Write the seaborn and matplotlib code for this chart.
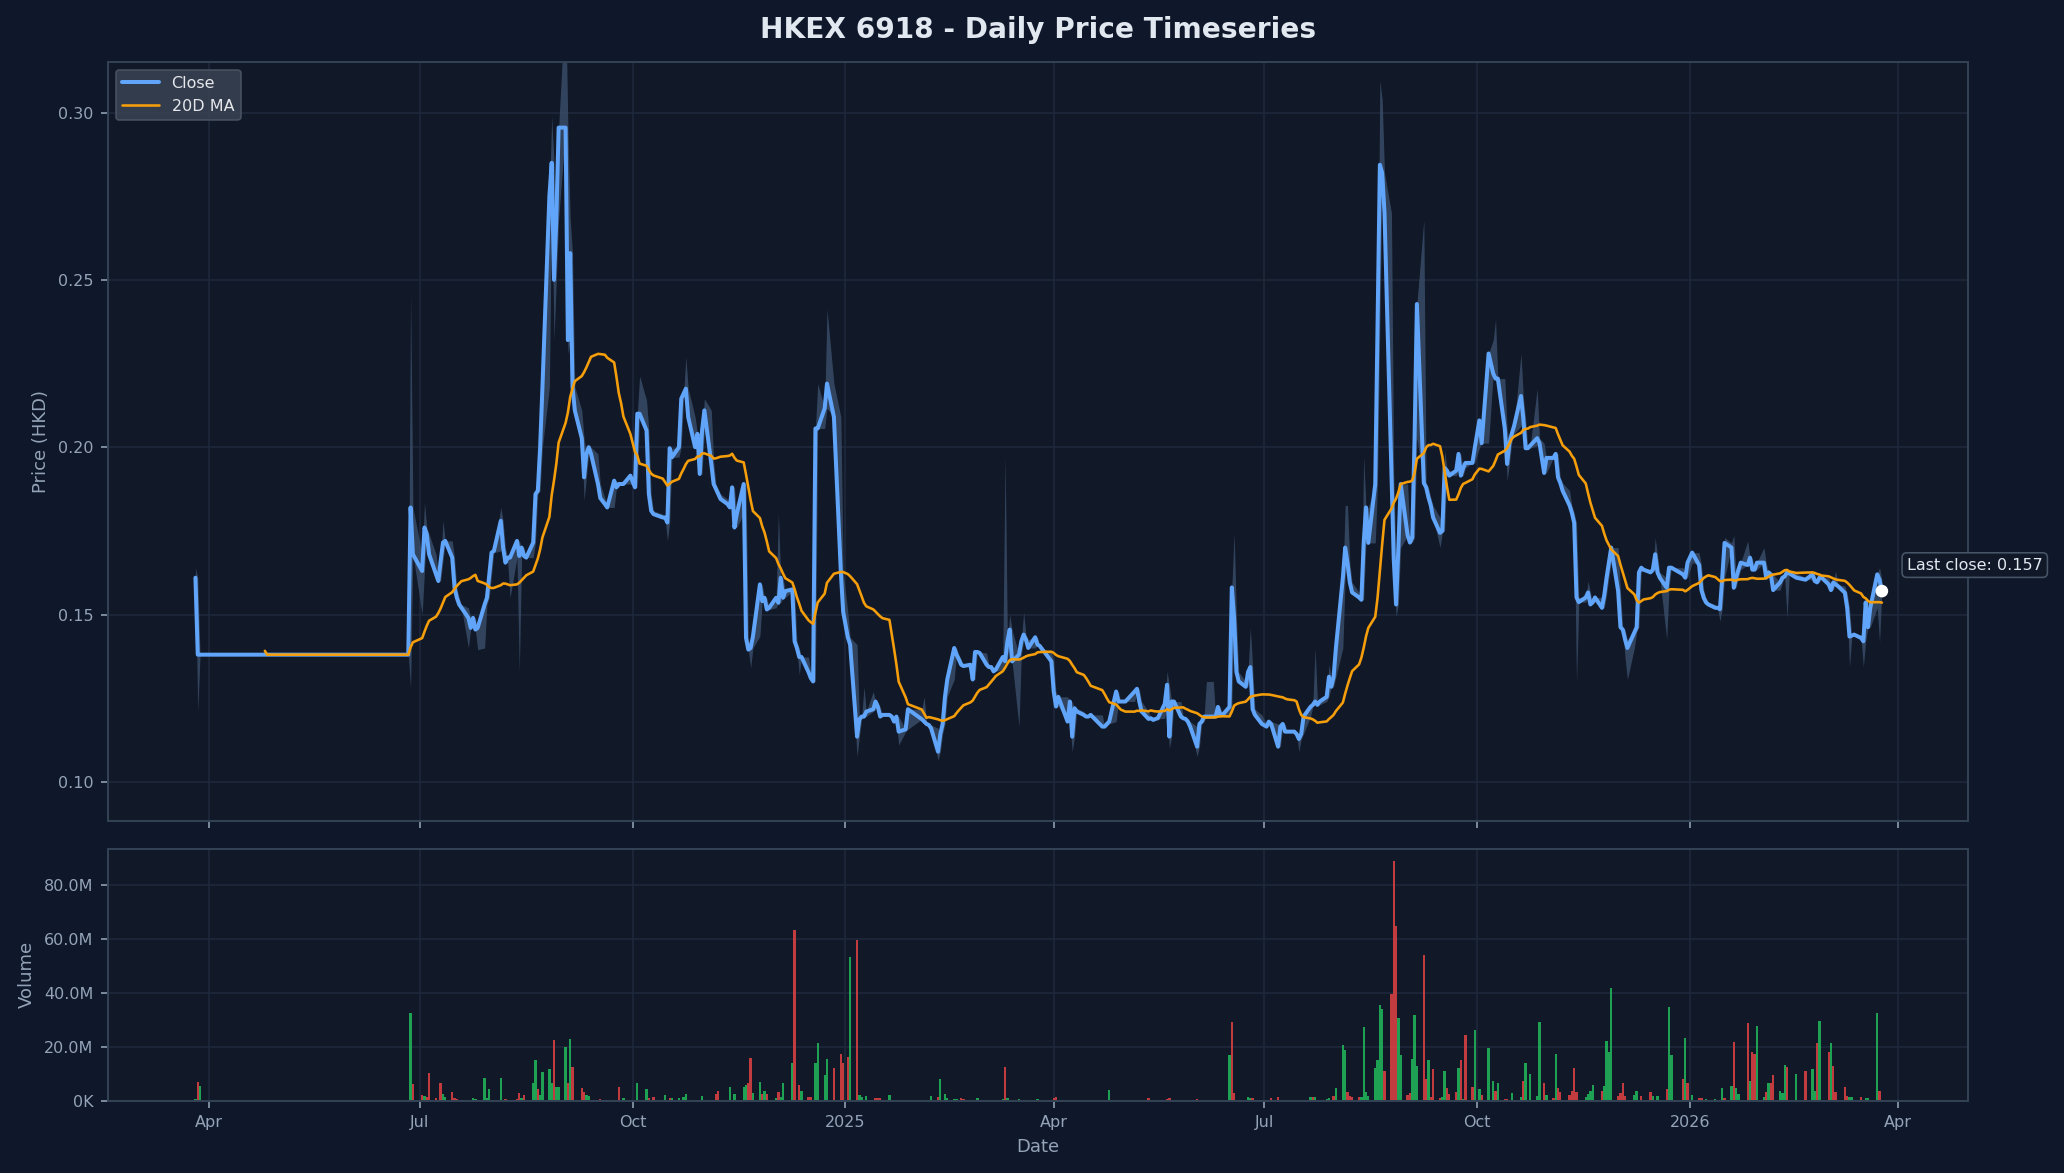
import numpy as np
import pandas as pd
import matplotlib
matplotlib.use("Agg")
import matplotlib.pyplot as plt
import matplotlib.dates as mdates
from matplotlib.ticker import FuncFormatter, MultipleLocator
import seaborn as sns

# ------------------------------------------------------------------ data
TITLE = "HKEX 6918 - Daily Price Timeseries"
FIRST_DAY = "2024-03-26"
LAST_DAY = "2026-03-25"

# HKEX weekday market holidays inside the range (trading calendar)
hk_holidays = ["2024-03-29", "2024-04-01", "2024-04-04", "2024-05-01", "2024-05-15",
               "2024-06-10", "2024-07-01", "2024-09-18", "2024-10-01", "2024-10-11",
               "2024-12-25", "2024-12-26", "2025-01-01", "2025-01-29", "2025-01-30",
               "2025-01-31", "2025-04-04", "2025-04-18", "2025-04-21", "2025-05-01",
               "2025-05-05", "2025-07-01", "2025-10-01", "2025-10-07", "2025-10-29",
               "2025-12-25", "2025-12-26", "2026-01-01", "2026-02-17", "2026-02-18",
               "2026-02-19"]

close_2024_03 = [0.161, 0.138, 0.138]
close_2024_04 = [0.138] * 20
close_2024_05 = [0.138] * 21
close_2024_06 = [0.138] * 17 + [0.182, 0.168]
close_2024_07 = [0.163, 0.176, 0.174, 0.168, 0.162, 0.160, 0.166, 0.1715, 0.172, 0.167,
                 0.158, 0.155, 0.153, 0.152, 0.149, 0.146, 0.149, 0.1455, 0.146, 0.153,
                 0.155, 0.1617]
close_2024_08 = [0.1685, 0.169, 0.178, 0.170, 0.1655, 0.167, 0.167, 0.172, 0.1675, 0.170,
                 0.1675, 0.167, 0.1715, 0.186, 0.187, 0.200, 0.218, 0.275, 0.285, 0.250,
                 0.268, 0.2955]
close_2024_09 = [0.2955, 0.232, 0.258, 0.218, 0.211, 0.2027, 0.191, 0.198, 0.200, 0.198,
                 0.189, 0.1848, 0.183, 0.182, 0.190, 0.188, 0.189, 0.189, 0.189, 0.1915]
close_2024_10 = [0.188, 0.210, 0.210, 0.205, 0.186, 0.181, 0.180, 0.179, 0.179, 0.1775,
                 0.1997, 0.197, 0.200, 0.2145, 0.216, 0.2175, 0.209, 0.200, 0.204, 0.192,
                 0.205]
close_2024_11 = [0.211, 0.195, 0.189, 0.1875, 0.186, 0.1845, 0.183, 0.182, 0.188, 0.176,
                 0.180, 0.189, 0.143, 0.1395, 0.140, 0.1435, 0.159, 0.154, 0.155, 0.1515,
                 0.152]
close_2024_12 = [0.155, 0.1535, 0.161, 0.155, 0.157, 0.1575, 0.142, 0.140, 0.1373, 0.1373,
                 0.1328, 0.131, 0.130, 0.2056, 0.2056, 0.2116, 0.219, 0.209, 0.1625, 0.1508]
close_2025_01 = [0.1432, 0.141, 0.1135, 0.1187, 0.1195, 0.1195, 0.121, 0.1217, 0.124, 0.1224,
                 0.1195, 0.120, 0.120, 0.1195, 0.118, 0.1195, 0.115, 0.1157, 0.1217]
close_2025_02 = [0.1187, 0.118, 0.1173, 0.117, 0.116, 0.109, 0.1143, 0.1173, 0.1254, 0.1306,
                 0.140, 0.138, 0.1366, 0.135, 0.1346, 0.135, 0.1306, 0.1388, 0.1388, 0.1385]
close_2025_03 = [0.135, 0.1343, 0.1343, 0.133, 0.1336, 0.1373, 0.136, 0.142, 0.1455, 0.136,
                 0.138, 0.142, 0.144, 0.1425, 0.140, 0.1432, 0.141, 0.1406, 0.1396, 0.1388,
                 0.136]
close_2025_04 = [0.127, 0.1225, 0.1254, 0.118, 0.124, 0.1135, 0.122, 0.121, 0.120, 0.1195,
                 0.1195, 0.120, 0.1165, 0.1165, 0.1173, 0.118, 0.127, 0.124, 0.124]
close_2025_05 = [0.124, 0.127, 0.1278, 0.124, 0.121, 0.1188, 0.119, 0.1185, 0.1188, 0.119,
                 0.1233, 0.129, 0.1135, 0.124, 0.124, 0.1195, 0.119, 0.1188, 0.118, 0.1165]
close_2025_06 = [0.1105, 0.1173, 0.118, 0.1195, 0.1195, 0.1195, 0.1195, 0.1224, 0.120, 0.120,
                 0.1224, 0.1581, 0.149, 0.1328, 0.130, 0.1284, 0.1328, 0.1343, 0.1217, 0.120,
                 0.1173]
close_2025_07 = [0.1165, 0.118, 0.1173, 0.1105, 0.1165, 0.1173, 0.115, 0.115, 0.115,
                 0.1143, 0.1128, 0.1143, 0.1195, 0.1224, 0.123, 0.124, 0.123, 0.124, 0.1254,
                 0.1314, 0.1284, 0.1314]
close_2025_08 = [0.140, 0.161, 0.170, 0.1655, 0.1596, 0.1566, 0.1551, 0.1544, 0.1714, 0.182,
                 0.1714, 0.189, 0.237, 0.2844, 0.282, 0.270, 0.192, 0.1665, 0.153, 0.170,
                 0.189]
close_2025_09 = [0.1737, 0.1715, 0.173, 0.2027, 0.2428, 0.1893, 0.188, 0.185, 0.1826, 0.179,
                 0.1744, 0.175, 0.1938, 0.193, 0.1915, 0.193, 0.198, 0.1915, 0.1938, 0.1953,
                 0.1953, 0.1997]
close_2025_10 = [0.208, 0.2012, 0.228, 0.222, 0.2205, 0.2205, 0.2056, 0.195, 0.2012, 0.204,
                 0.2063, 0.2153, 0.2086, 0.1997, 0.1997, 0.2005, 0.2027, 0.2012, 0.1923, 0.1968]
close_2025_11 = [0.1968, 0.198, 0.191, 0.1893, 0.187, 0.1826, 0.1804, 0.1774, 0.1551, 0.1537,
                 0.1551, 0.1566, 0.153, 0.1537, 0.1551, 0.152, 0.1558, 0.161, 0.1655, 0.170]
close_2025_12 = [0.157, 0.1462, 0.1455, 0.1425, 0.140, 0.1447, 0.1462, 0.1626, 0.164, 0.1634,
                 0.1626, 0.1634, 0.168, 0.1626, 0.161, 0.158, 0.164, 0.164, 0.162, 0.161,
                 0.1655]
close_2026_01 = [0.1685, 0.1648, 0.1573, 0.155, 0.1536, 0.153, 0.152, 0.152, 0.1516,
                 0.161, 0.1714, 0.170, 0.158, 0.161, 0.1634, 0.1655, 0.1648, 0.167, 0.1634,
                 0.1634, 0.1655]
close_2026_02 = [0.1655, 0.161, 0.1626, 0.162, 0.1573, 0.1596, 0.161, 0.1614, 0.1626, 0.1623,
                 0.161, 0.1604, 0.162, 0.160, 0.1596, 0.161, 0.161]
close_2026_03 = [0.159, 0.1573, 0.1596, 0.159, 0.1585, 0.1565, 0.152, 0.1434, 0.1437, 0.144,
                 0.143, 0.142, 0.1536, 0.1462, 0.152, 0.162, 0.1604, 0.157]

months = [
    ("2024-03", close_2024_03), ("2024-04", close_2024_04), ("2024-05", close_2024_05),
    ("2024-06", close_2024_06), ("2024-07", close_2024_07), ("2024-08", close_2024_08),
    ("2024-09", close_2024_09), ("2024-10", close_2024_10), ("2024-11", close_2024_11),
    ("2024-12", close_2024_12), ("2025-01", close_2025_01), ("2025-02", close_2025_02),
    ("2025-03", close_2025_03), ("2025-04", close_2025_04), ("2025-05", close_2025_05),
    ("2025-06", close_2025_06), ("2025-07", close_2025_07), ("2025-08", close_2025_08),
    ("2025-09", close_2025_09), ("2025-10", close_2025_10), ("2025-11", close_2025_11),
    ("2025-12", close_2025_12), ("2026-01", close_2026_01), ("2026-02", close_2026_02),
    ("2026-03", close_2026_03),
]

# intraday extremes that reach beyond the close-to-close range
high_spike_dates = ["2024-03-26", "2024-06-27", "2024-07-03", "2024-08-27", "2024-09-02",
                    "2024-09-04", "2024-10-04", "2024-10-24", "2024-11-01", "2024-12-03",
                    "2024-12-20", "2024-12-24", "2025-01-09", "2025-02-04", "2025-03-11",
                    "2025-03-19", "2025-06-06", "2025-06-09", "2025-06-18", "2025-06-25",
                    "2025-07-23", "2025-08-05", "2025-08-06", "2025-08-13", "2025-08-20",
                    "2025-08-21", "2025-09-08", "2025-10-08", "2025-10-09", "2025-10-20",
                    "2025-10-27", "2025-12-17", "2026-01-16", "2026-01-20", "2026-02-02",
                    "2026-03-24", "2024-07-11", "2024-08-05", "2024-10-07", "2024-11-05",
                    "2025-01-13", "2025-03-13", "2025-05-20", "2025-07-29", "2025-09-17",
                    "2025-11-18", "2026-01-26", "2026-03-05"]
high_spike_values = [0.164, 0.2465, 0.1834, 0.299, 0.335,
                     0.268, 0.2213, 0.227, 0.2145, 0.1804,
                     0.219, 0.2413, 0.1284, 0.1254, 0.1975,
                     0.1507, 0.130, 0.130, 0.1744, 0.146,
                     0.140, 0.1826, 0.1826, 0.1975, 0.3097,
                     0.3037, 0.268, 0.232, 0.2383, 0.228,
                     0.2175, 0.1729, 0.173, 0.1737, 0.170,
                     0.164, 0.178, 0.182, 0.214, 0.196,
                     0.127, 0.150, 0.133, 0.135, 0.199,
                     0.160, 0.172, 0.163]
low_spike_dates = ["2024-03-27", "2024-06-27", "2024-07-02", "2024-07-22", "2024-07-26",
                   "2024-07-29", "2024-08-09", "2024-08-13", "2024-08-28", "2024-09-03",
                   "2025-01-06", "2025-02-10", "2025-03-17", "2025-06-02", "2025-08-27",
                   "2025-11-13", "2025-12-05", "2025-12-22", "2026-02-12", "2026-03-11",
                   "2026-03-17", "2026-03-24", "2024-09-10", "2024-10-16", "2024-11-21",
                   "2024-12-12", "2025-01-24", "2025-04-09", "2025-05-21", "2025-07-16",
                   "2025-09-15", "2025-10-14", "2025-12-04", "2026-01-14"]
low_spike_values = [0.121, 0.128, 0.150, 0.140, 0.1395,
                    0.140, 0.155, 0.1328, 0.232, 0.228,
                    0.1076, 0.1065, 0.1165, 0.1076, 0.1493,
                    0.1294, 0.1306, 0.1425, 0.149, 0.1343,
                    0.1343, 0.1417, 0.184, 0.172, 0.134,
                    0.132, 0.111, 0.109, 0.110, 0.109,
                    0.170, 0.190, 0.137, 0.148]

# traded volume (millions of shares), u = up bar, d = down bar
volume_events = [
    ("2024-03-26", 0.6, "u"), ("2024-03-27", 7.1, "d"), ("2024-03-28", 5.6, "u"),
    ("2024-06-27", 32.75, "u"), ("2024-06-28", 6.25, "d"), ("2024-07-02", 2.2, "d"),
    ("2024-07-03", 1.9, "u"), ("2024-07-04", 1.5, "d"), ("2024-07-05", 10.4, "d"),
    ("2024-07-08", 0.9, "d"), ("2024-07-10", 6.6, "d"), ("2024-07-11", 2.5, "u"),
    ("2024-07-12", 1.5, "u"), ("2024-07-15", 3.4, "d"), ("2024-07-16", 1.2, "d"),
    ("2024-07-17", 0.5, "d"), ("2024-07-22", 0.3, "d"), ("2024-07-24", 0.9, "u"),
    ("2024-07-25", 0.5, "u"), ("2024-07-29", 8.6, "u"), ("2024-07-30", 1.2, "u"),
    ("2024-07-31", 4.4, "u"), ("2024-08-05", 8.6, "u"), ("2024-08-07", 0.5, "d"),
    ("2024-08-12", 0.5, "d"), ("2024-08-13", 2.9, "d"), ("2024-08-14", 0.9, "u"),
    ("2024-08-15", 2.2, "d"), ("2024-08-19", 6.4, "u"), ("2024-08-20", 15.0, "u"),
    ("2024-08-21", 4.4, "d"), ("2024-08-22", 2.2, "u"), ("2024-08-23", 10.5, "u"),
    ("2024-08-26", 11.6, "u"), ("2024-08-27", 6.7, "u"), ("2024-08-28", 22.5, "d"),
    ("2024-08-29", 5.0, "u"), ("2024-08-30", 5.0, "u"), ("2024-09-02", 19.9, "u"),
    ("2024-09-03", 6.7, "d"), ("2024-09-04", 22.9, "u"), ("2024-09-05", 12.4, "d"),
    ("2024-09-09", 4.9, "d"), ("2024-09-10", 3.4, "d"), ("2024-09-11", 2.2, "u"),
    ("2024-09-12", 1.9, "u"), ("2024-09-13", 0.4, "u"), ("2024-09-17", 0.5, "d"),
    ("2024-09-25", 5.2, "d"), ("2024-09-27", 1.1, "u"), ("2024-09-30", 0.4, "u"),
    ("2024-10-03", 6.4, "u"), ("2024-10-07", 4.2, "u"), ("2024-10-08", 1.1, "d"),
    ("2024-10-10", 1.4, "d"), ("2024-10-14", 0.4, "d"), ("2024-10-15", 2.1, "u"),
    ("2024-10-17", 1.2, "d"), ("2024-10-18", 1.1, "u"), ("2024-10-21", 1.1, "u"),
    ("2024-10-23", 1.5, "u"), ("2024-10-24", 2.6, "u"), ("2024-10-28", 0.3, "d"),
    ("2024-10-29", 0.3, "d"), ("2024-10-31", 1.75, "u"), ("2024-11-06", 2.6, "d"),
    ("2024-11-07", 3.75, "d"), ("2024-11-12", 5.25, "u"), ("2024-11-14", 2.6, "u"),
    ("2024-11-18", 5.25, "u"), ("2024-11-19", 6.0, "u"), ("2024-11-20", 6.5, "d"),
    ("2024-11-21", 15.75, "d"), ("2024-11-22", 2.75, "u"), ("2024-11-25", 7.1, "u"),
    ("2024-11-26", 2.5, "d"), ("2024-11-27", 3.5, "u"), ("2024-11-28", 2.5, "d"),
    ("2024-12-02", 1.0, "u"), ("2024-12-03", 3.4, "d"), ("2024-12-04", 1.5, "u"),
    ("2024-12-05", 6.4, "u"), ("2024-12-09", 14.0, "u"), ("2024-12-10", 63.4, "d"),
    ("2024-12-12", 6.0, "d"), ("2024-12-13", 3.75, "u"), ("2024-12-16", 1.5, "d"),
    ("2024-12-17", 1.5, "d"), ("2024-12-19", 14.0, "u"), ("2024-12-20", 21.4, "u"),
    ("2024-12-23", 9.4, "u"), ("2024-12-24", 15.4, "u"), ("2024-12-27", 12.0, "d"),
    ("2024-12-30", 17.25, "d"), ("2024-12-31", 13.9, "d"), ("2025-01-02", 16.1, "d"),
    ("2025-01-03", 53.4, "u"), ("2025-01-06", 59.6, "d"), ("2025-01-07", 2.25, "u"),
    ("2025-01-08", 1.5, "u"), ("2025-01-10", 1.9, "u"), ("2025-01-14", 1.1, "d"),
    ("2025-01-15", 1.1, "d"), ("2025-01-16", 1.0, "d"), ("2025-01-20", 2.25, "u"),
    ("2025-02-07", 1.9, "u"), ("2025-02-10", 1.5, "d"), ("2025-02-11", 7.9, "u"),
    ("2025-02-13", 2.5, "u"), ("2025-02-14", 0.9, "u"), ("2025-02-17", 0.5, "u"),
    ("2025-02-18", 0.5, "u"), ("2025-02-20", 1.1, "d"), ("2025-02-21", 0.5, "d"),
    ("2025-02-27", 0.9, "u"), ("2025-03-10", 0.5, "u"), ("2025-03-11", 12.4, "d"),
    ("2025-03-12", 0.9, "u"), ("2025-03-17", 0.5, "u"), ("2025-03-25", 0.5, "u"),
    ("2025-04-01", 1.1, "d"), ("2025-04-02", 1.5, "d"), ("2025-04-25", 4.1, "u"),
    ("2025-05-12", 1.1, "d"), ("2025-05-20", 0.5, "d"), ("2025-05-21", 0.9, "d"),
    ("2025-06-02", 0.5, "d"), ("2025-06-16", 16.9, "u"), ("2025-06-17", 29.25, "d"),
    ("2025-06-18", 2.9, "d"), ("2025-06-24", 1.5, "u"), ("2025-06-25", 1.1, "u"),
    ("2025-06-26", 0.9, "d"), ("2025-07-04", 0.9, "d"), ("2025-07-07", 1.5, "d"),
    ("2025-07-21", 1.5, "u"), ("2025-07-22", 1.5, "d"), ("2025-07-23", 1.5, "u"),
    ("2025-07-28", 0.5, "u"), ("2025-07-29", 1.0, "u"), ("2025-07-31", 1.9, "d"),
    ("2025-08-01", 4.9, "u"), ("2025-08-04", 20.6, "u"), ("2025-08-05", 18.75, "u"),
    ("2025-08-06", 3.1, "d"), ("2025-08-07", 1.9, "d"), ("2025-08-08", 1.5, "d"),
    ("2025-08-11", 1.5, "d"), ("2025-08-12", 1.25, "u"), ("2025-08-13", 27.4, "u"),
    ("2025-08-14", 3.4, "u"), ("2025-08-15", 1.75, "u"), ("2025-08-18", 12.25, "u"),
    ("2025-08-19", 15.0, "u"), ("2025-08-20", 35.6, "u"), ("2025-08-21", 34.1, "u"),
    ("2025-08-22", 10.9, "d"), ("2025-08-25", 39.5, "d"), ("2025-08-26", 89.1, "d"),
    ("2025-08-27", 64.75, "d"), ("2025-08-28", 30.6, "u"), ("2025-08-29", 16.9, "u"),
    ("2025-09-01", 2.25, "d"), ("2025-09-02", 2.75, "d"), ("2025-09-03", 15.6, "u"),
    ("2025-09-04", 31.9, "u"), ("2025-09-05", 12.75, "u"), ("2025-09-08", 54.0, "d"),
    ("2025-09-09", 7.9, "d"), ("2025-09-10", 15.25, "u"), ("2025-09-11", 1.25, "d"),
    ("2025-09-12", 11.9, "d"), ("2025-09-15", 1.0, "d"), ("2025-09-16", 1.25, "u"),
    ("2025-09-17", 10.9, "u"), ("2025-09-18", 4.9, "d"), ("2025-09-19", 2.5, "d"),
    ("2025-09-22", 3.1, "d"), ("2025-09-23", 12.25, "u"), ("2025-09-24", 15.0, "d"),
    ("2025-09-25", 0.5, "u"), ("2025-09-26", 24.4, "d"), ("2025-09-29", 5.0, "d"),
    ("2025-09-30", 26.25, "u"), ("2025-10-02", 4.4, "u"), ("2025-10-03", 2.25, "d"),
    ("2025-10-06", 19.5, "u"), ("2025-10-09", 3.5, "d"), ("2025-10-08", 7.25, "u"),
    ("2025-10-10", 6.5, "u"), ("2025-10-13", 0.75, "d"), ("2025-10-14", 0.75, "d"),
    ("2025-10-16", 2.75, "u"), ("2025-10-20", 1.5, "u"), ("2025-10-21", 7.5, "d"),
    ("2025-10-22", 14.1, "u"), ("2025-10-24", 9.75, "u"), ("2025-10-27", 1.75, "u"),
    ("2025-10-28", 29.25, "u"), ("2025-10-30", 6.4, "d"), ("2025-10-31", 2.25, "u"),
    ("2025-11-03", 0.9, "d"), ("2025-11-04", 17.25, "u"), ("2025-11-05", 4.9, "d"),
    ("2025-11-06", 3.1, "d"), ("2025-11-10", 2.25, "d"), ("2025-11-11", 3.75, "d"),
    ("2025-11-12", 12.0, "d"), ("2025-11-13", 3.1, "d"), ("2025-11-17", 1.5, "u"),
    ("2025-11-18", 2.5, "u"), ("2025-11-19", 3.5, "u"), ("2025-11-20", 6.0, "u"),
    ("2025-11-24", 3.5, "d"), ("2025-11-25", 5.6, "u"), ("2025-11-26", 22.25, "u"),
    ("2025-11-27", 18.0, "u"), ("2025-11-28", 42.0, "u"), ("2025-12-01", 1.75, "d"),
    ("2025-12-02", 3.0, "d"), ("2025-12-03", 6.75, "d"), ("2025-12-04", 1.75, "d"),
    ("2025-12-08", 2.25, "u"), ("2025-12-09", 3.75, "u"), ("2025-12-11", 1.9, "d"),
    ("2025-12-15", 3.4, "d"), ("2025-12-16", 1.75, "u"), ("2025-12-18", 1.75, "u"),
    ("2025-12-22", 4.5, "d"), ("2025-12-23", 34.9, "u"), ("2025-12-24", 16.9, "u"),
    ("2025-12-29", 7.9, "d"), ("2025-12-30", 23.25, "u"), ("2025-12-31", 6.4, "d"),
    ("2026-01-02", 2.25, "u"), ("2026-01-05", 0.9, "d"), ("2026-01-06", 0.9, "d"),
    ("2026-01-08", 0.5, "u"), ("2026-01-12", 0.5, "u"), ("2026-01-15", 4.9, "u"),
    ("2026-01-16", 1.1, "d"), ("2026-01-19", 5.6, "u"), ("2026-01-20", 21.75, "d"),
    ("2026-01-21", 4.9, "u"), ("2026-01-22", 2.6, "u"), ("2026-01-26", 29.0, "d"),
    ("2026-01-27", 7.5, "u"), ("2026-01-28", 18.0, "d"), ("2026-01-29", 17.5, "d"),
    ("2026-01-30", 27.75, "u"), ("2026-02-02", 1.5, "u"), ("2026-02-03", 3.4, "d"),
    ("2026-02-04", 6.4, "u"), ("2026-02-05", 6.4, "d"), ("2026-02-06", 9.4, "d"),
    ("2026-02-09", 3.75, "u"), ("2026-02-10", 2.75, "u"), ("2026-02-11", 13.1, "u"),
    ("2026-02-12", 12.4, "d"), ("2026-02-16", 10.1, "u"), ("2026-02-20", 10.9, "d"),
    ("2026-02-23", 11.6, "u"), ("2026-02-24", 3.75, "u"), ("2026-02-25", 21.4, "d"),
    ("2026-02-26", 29.6, "u"), ("2026-03-02", 18.0, "d"), ("2026-03-03", 21.4, "u"),
    ("2026-03-04", 12.75, "d"), ("2026-03-05", 3.4, "d"), ("2026-03-09", 5.25, "d"),
    ("2026-03-10", 1.75, "d"), ("2026-03-11", 1.5, "u"), ("2026-03-12", 1.25, "u"),
    ("2026-03-16", 1.5, "d"), ("2026-03-18", 1.1, "u"), ("2026-03-19", 1.1, "u"),
    ("2026-03-23", 32.75, "u"), ("2026-03-24", 3.75, "d"),
]

# ------------------------------------------------------------------ build frame
hol = pd.to_datetime(hk_holidays)
dates_all, close_all = [], []
for ym, vals in months:
    start = pd.Timestamp(ym + "-01")
    end = start + pd.offsets.MonthEnd(0)
    start = max(start, pd.Timestamp(FIRST_DAY))
    end = min(end, pd.Timestamp(LAST_DAY))
    days = pd.bdate_range(start, end, freq="C", holidays=hol)
    if len(days) != len(vals):
        idx = np.linspace(0, len(days) - 1, len(vals)).round().astype(int)
        days = days[idx]
    dates_all.extend(list(days))
    close_all.extend(vals)

df = pd.DataFrame({"Date": pd.to_datetime(dates_all), "Close": np.array(close_all, float)})
df = df.drop_duplicates("Date").reset_index(drop=True)
df["MA20"] = df["Close"].rolling(20).mean()
prev = df["Close"].shift(1).fillna(df["Close"])
df["High"] = np.maximum(df["Close"], prev)
df["Low"] = np.minimum(df["Close"], prev)
idx_dates = pd.DatetimeIndex(df["Date"])


def nearest(d):
    return idx_dates.get_indexer([pd.Timestamp(d)], method="nearest")[0]


for d, v in zip(high_spike_dates, high_spike_values):
    i = nearest(d)
    df.loc[i, "High"] = max(df.loc[i, "High"], v)
for d, v in zip(low_spike_dates, low_spike_values):
    i = nearest(d)
    df.loc[i, "Low"] = min(df.loc[i, "Low"], v)

df["Volume"] = 0.0
df["Up"] = True
for d, v, s in volume_events:
    i = nearest(d)
    df.loc[i, "Volume"] = v * 1e6
    df.loc[i, "Up"] = (s == "u")

# ------------------------------------------------------------------ style
BG_FIG = "#0f172a"
BG_AX = "#111827"
GRID = "#1e293b"
SPINE = "#334155"
TICK = "#94a3b8"
TEXT = "#e2e8f0"
C_CLOSE = "#60a5fa"
C_MA = "#f59e0b"
C_UP = "#22c55e"
C_DN = "#ef4444"
C_BAND = "#3b4f6b"

sns.set_theme(style="dark")
plt.rcParams["font.family"] = ["DejaVu Sans"]
plt.rcParams.update({
    "axes.facecolor": BG_AX,
    "figure.facecolor": BG_FIG,
    "axes.edgecolor": SPINE,
    "xtick.color": TICK,
    "ytick.color": TICK,
    "xtick.bottom": True,
    "ytick.left": True,
})

DPI = 144
fig = plt.figure(figsize=(2064 / DPI, 1173 / DPI), dpi=DPI, facecolor=BG_FIG)
ax1 = fig.add_axes([0.0521, 0.3001, 0.9015, 0.6473])
ax2 = fig.add_axes([0.0521, 0.0616, 0.9015, 0.2149], sharex=ax1)

for ax in (ax1, ax2):
    ax.set_facecolor(BG_AX)
    for sp in ax.spines.values():
        sp.set_visible(True)
        sp.set_color(SPINE)
        sp.set_linewidth(1.0)
    ax.grid(True, color=GRID, linewidth=0.8)
    ax.set_axisbelow(True)
    ax.tick_params(axis="both", colors=TICK, labelsize=8, length=3.5, width=0.8,
                   direction="out")

# price panel
ax1.fill_between(df["Date"], df["Low"], df["High"], color=C_BAND, alpha=0.8,
                 linewidth=0, zorder=1)
sns.lineplot(data=df, x="Date", y="Close", ax=ax1, color=C_CLOSE, linewidth=2.0,
             label="Close", estimator=None, errorbar=None, zorder=3)
sns.lineplot(data=df.dropna(subset=["MA20"]), x="Date", y="MA20", ax=ax1, color=C_MA,
             linewidth=1.3, label="20D MA", estimator=None, errorbar=None, zorder=4)

last = df.iloc[-1]
ax1.scatter([last["Date"]], [last["Close"]], s=40, color="white", zorder=6,
            edgecolor="none")
ax1.annotate(f"Last close: {last['Close']:.3f}", xy=(last["Date"], last["Close"]),
             xytext=(12.5, 13), textcoords="offset points", ha="left", va="center",
             fontsize=8, color=TEXT,
             bbox=dict(boxstyle="round,pad=0.3", fc=BG_AX, ec="#475569", lw=0.8))

ax1.set_ylim(0.0883, 0.3152)
ax1.yaxis.set_major_locator(MultipleLocator(0.05))
ax1.yaxis.set_major_formatter(FuncFormatter(lambda v, p: f"{v:.2f}"))
ax1.set_ylabel("Price (HKD)", color=TICK, fontsize=9)
ax1.set_xlabel("")
ax1.tick_params(axis="x", labelbottom=False)
ax1.set_title(TITLE, fontsize=14, fontweight="bold", color=TEXT, pad=12)

leg = ax1.legend(loc="upper left", fontsize=8, handlelength=2.3, facecolor="#374151",
                 edgecolor="#4b5563", framealpha=0.9, labelcolor="#e5e7eb")
leg.get_frame().set_linewidth(0.8)

# volume panel
vol = df[df["Volume"] > 0]
colors = np.where(vol["Up"], C_UP, C_DN)
ax2.bar(vol["Date"], vol["Volume"], width=1.0, color=colors, alpha=0.8, linewidth=0)
ax2.set_ylim(0, df["Volume"].max() * 1.05)
ax2.yaxis.set_major_locator(MultipleLocator(20e6))
ax2.yaxis.set_major_formatter(
    FuncFormatter(lambda v, p: f"{v / 1e6:.1f}M" if v >= 1e6 else f"{v / 1e3:.0f}K"))
ax2.set_ylabel("Volume", color=TICK, fontsize=9)
ax2.set_xlabel("Date", color=TICK, fontsize=9)

loc = mdates.MonthLocator(bymonth=[1, 4, 7, 10])
ax2.xaxis.set_major_locator(loc)
ax2.xaxis.set_major_formatter(mdates.ConciseDateFormatter(loc))
ax2.set_xlim(pd.Timestamp("2024-02-17 00:00"), pd.Timestamp("2026-05-01 08:00"))

fig.savefig("out.png", dpi=DPI, facecolor=BG_FIG)
